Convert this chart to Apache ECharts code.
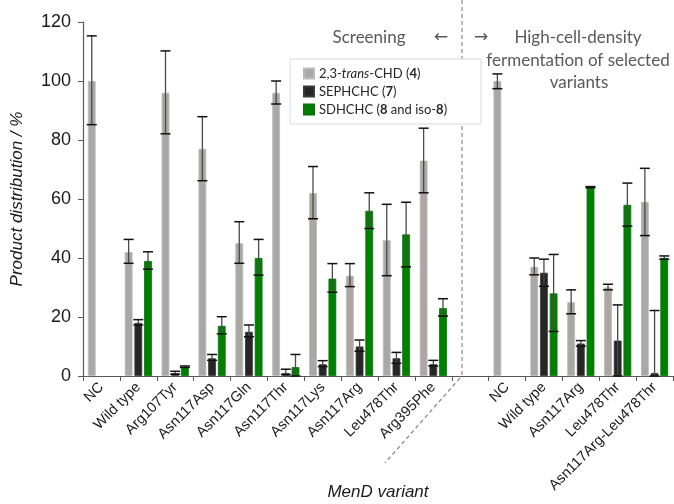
<!DOCTYPE html>
<html><head><meta charset="utf-8">
<script src="https://cdn.jsdelivr.net/npm/echarts@6/dist/echarts.min.js"></script>
<style>html,body{margin:0;padding:0;background:#fff}#c{width:674px;height:504px}</style>
</head><body><div id="c"></div>
<script>
const categories = ['NC','Wild type','Arg107Tyr','Asn117Asp','Asn117Gln','Asn117Thr','Asn117Lys','Asn117Arg','Leu478Thr','Arg395Phe','','NC','Wild type','Asn117Arg','Leu478Thr','Asn117Arg-Leu478Thr'];
const yTicks = [0, 20, 40, 60, 80, 100, 120];

const chdValues = [100, 42, 96, 77, 45, 96, 62, 34, 46, 73, null, 100, 37, 25, 30, 59];
const chdLow    = [85.2, 38.2, 82.1, 66.2, 38.2, 92.2, 53.3, 30.3, 34, 62.1, null, 97.4, 34.3, 21.1, 29.2, 47.6];
const chdHigh   = [115.3, 46.3, 110.2, 87.9, 52.3, 100, 71, 38.1, 58.2, 84, null, 102.4, 40, 29.2, 31.1, 70.4];

const sephValues = [null, 18, 1, 6, 15, 1, 4, 10, 6, 4, null, null, 35, 11, 12, 1];
const sephLow    = [null, 17.3, 0.6, 5.3, 13.3, 0.5, 3.2, 8.4, 4.3, 3.4, null, null, 30.4, 10.1, 0, 0];
const sephHigh   = [null, 19.1, 1.6, 7.3, 17.3, 2.3, 5.2, 12.2, 8, 5.3, null, null, 39.6, 12, 24.1, 22.2];

const sdhValues = [null, 39, 3, 17, 40, 3, 33, 56, 48, 23, null, null, 28, 64, 58, 40];
const sdhLow    = [null, 36.2, 2.9, 14.3, 34.2, 0, 28.4, 50, 37, 20.3, null, null, 15.1, 63.8, 50.8, 39.6];
const sdhHigh   = [null, 42.1, 3.4, 20.1, 46.3, 7.3, 38.1, 62.1, 58.9, 26.2, null, null, 41.2, 64.2, 65.4, 40.7];

const BAR_W = 0.21, BAR_GAP = 0.25;
const colors = ['#aba7a5', '#262626', '#008000'];
const names = ['chd', 'seph', 'sdh'];

function errData(lo, hi) {
  const out = [];
  for (let i = 0; i < lo.length; i++) if (lo[i] != null) out.push([i, lo[i], hi[i]]);
  return out;
}
function errSeries(idx, lo, hi) {
  return {
    type: 'custom', z: 5, silent: true,
    data: errData(lo, hi),
    renderItem: function (params, api) {
      const band = api.size([1, 0])[0];
      const off = (idx - 1) * BAR_W * (1 + BAR_GAP) * band;
      const pLo = api.coord([api.value(0), api.value(1)]);
      const pHi = api.coord([api.value(0), api.value(2)]);
      const cx = pLo[0] + off, hw = 5;
      return { type: 'group', children: [
        { type: 'line', shape: { x1: cx, y1: pLo[1], x2: cx, y2: pHi[1] }, style: { stroke: '#4a4a4a', lineWidth: 1.3 } },
        { type: 'line', shape: { x1: cx - hw, y1: pHi[1], x2: cx + hw, y2: pHi[1] }, style: { stroke: '#111', lineWidth: 1.5 } },
        { type: 'line', shape: { x1: cx - hw, y1: pLo[1], x2: cx + hw, y2: pLo[1] }, style: { stroke: '#111', lineWidth: 1.5 } }
      ]};
    }
  };
}
function barSeries(i, vals) {
  return {
    name: names[i], type: 'bar', data: vals,
    barWidth: (BAR_W * 100) + '%', barGap: (BAR_GAP * 100) + '%',
    itemStyle: { color: colors[i], borderColor: i === 0 ? '#bdb9b7' : (i === 1 ? '#3a3a3a' : '#0a700a'), borderWidth: 0.8 }
  };
}

const chart = echarts.init(document.getElementById('c'), null, { renderer: 'canvas' });
const ff = 'Lato, "DejaVu Sans", sans-serif';
chart.setOption({
  animation: false,
  grid: { left: 83, right: 1, top: 22, bottom: 128, containLabel: false, outerBoundsMode: 'none' },
  legend: {
    orient: 'vertical', left: 290, top: 59, z: 10,
    data: names, selectedMode: false,
    itemWidth: 10, itemHeight: 10, itemGap: 5,
    padding: [8, 34, 8, 13],
    backgroundColor: '#fff', borderColor: '#d9d9d9', borderWidth: 1,
    icon: 'rect',
    formatter: function (n) {
      if (n === 'chd') return '2,3-{i|trans}-CHD ({b|4})';
      if (n === 'seph') return 'SEPHCHC ({b|7})';
      return 'SDHCHC ({b|8} and iso-{b|8})';
    },
    textStyle: {
      fontFamily: ff, fontSize: 13, color: '#262626',
      rich: {
        i: { fontStyle: 'italic', fontFamily: ff, fontSize: 13, color: '#262626' },
        b: { fontWeight: 'bold', fontFamily: ff, fontSize: 13, color: '#262626' }
      }
    }
  },
  xAxis: {
    type: 'category', data: categories,
    name: 'MenD variant', nameLocation: 'middle', nameGap: 108, nameMoveOverlap: false,
    nameTextStyle: { fontFamily: '"Liberation Sans", Arial', fontStyle: 'italic', fontSize: 17, color: '#1a1a1a' },
    axisLine: { lineStyle: { color: '#595959', width: 1.2 } },
    axisTick: { show: true, length: 5, lineStyle: { color: '#595959' } },
    axisLabel: { interval: 0, rotate: 45, margin: 9, fontFamily: '"Liberation Sans", Arial', fontSize: 14.5, color: '#1a1a1a' }
  },
  yAxis: {
    type: 'value', min: yTicks[0], max: yTicks[yTicks.length - 1], interval: 20,
    name: 'Product distribution / %', nameLocation: 'middle', nameGap: 57, nameMoveOverlap: false,
    nameTextStyle: { fontFamily: '"Liberation Sans", Arial', fontStyle: 'italic', fontSize: 17, color: '#1a1a1a' },
    axisLine: { show: true, lineStyle: { color: '#595959', width: 1.2 } },
    axisTick: { show: true, length: 5, lineStyle: { color: '#595959' } },
    splitLine: { show: false },
    axisLabel: { margin: 12, fontFamily: '"Liberation Sans", Arial', fontSize: 18, color: '#1a1a1a' }
  },
  graphic: [
    { type: 'line', shape: { x1: 462, y1: 0, x2: 462, y2: 375 }, style: { stroke: '#8c8c8c', lineWidth: 1.2, lineDash: [4, 3] } },
    { type: 'line', shape: { x1: 460, y1: 378, x2: 385, y2: 463 }, style: { stroke: '#8c8c8c', lineWidth: 1.2, lineDash: [4, 3] } },
    { type: 'text', x: 369, y: 38, style: { text: 'Screening', fontFamily: ff, fontSize: 17, fill: '#595959', align: 'center', verticalAlign: 'middle' } },
    { type: 'text', x: 441, y: 38, style: { text: '←', fontFamily: '"DejaVu Sans"', fontSize: 17, fill: '#595959', align: 'center', verticalAlign: 'middle' } },
    { type: 'text', x: 481, y: 38, style: { text: '→', fontFamily: '"DejaVu Sans"', fontSize: 17, fill: '#595959', align: 'center', verticalAlign: 'middle' } },
    { type: 'text', x: 578, y: 38, style: { text: 'High-cell-density', fontFamily: ff, fontSize: 17, fill: '#595959', align: 'center', verticalAlign: 'middle' } },
    { type: 'text', x: 578, y: 61, style: { text: 'fermentation of selected', fontFamily: ff, fontSize: 17, fill: '#595959', align: 'center', verticalAlign: 'middle' } },
    { type: 'text', x: 579, y: 83, style: { text: 'variants', fontFamily: ff, fontSize: 17, fill: '#595959', align: 'center', verticalAlign: 'middle' } }
  ],
  series: [
    barSeries(0, chdValues), barSeries(1, sephValues), barSeries(2, sdhValues),
    errSeries(0, chdLow, chdHigh), errSeries(1, sephLow, sephHigh), errSeries(2, sdhLow, sdhHigh)
  ]
});
</script></body></html>
